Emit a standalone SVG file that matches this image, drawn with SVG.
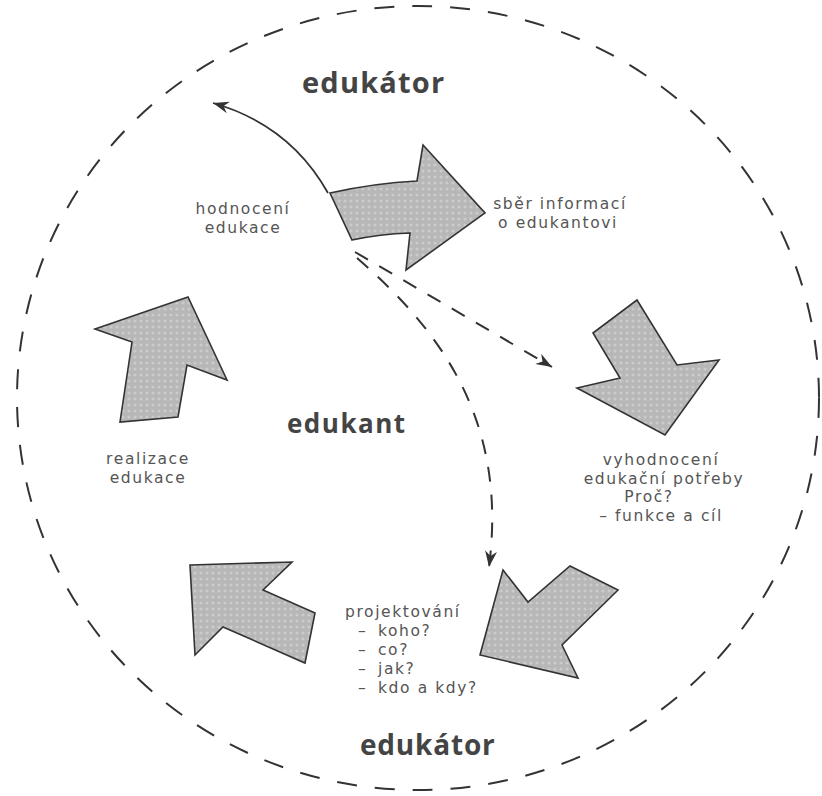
<svg xmlns="http://www.w3.org/2000/svg" width="822" height="796" viewBox="0 0 822 796">
<style>
.bold{font-family:"Open Sans","Liberation Sans",sans-serif;font-weight:bold;fill:#444;}
.lbl{font-family:"DejaVu Sans","Liberation Sans",sans-serif;font-size:15.5px;fill:#555;letter-spacing:1.6px;}
.big{fill:url(#dots);stroke:#333;stroke-width:1.6;stroke-linejoin:miter;}
.dash{fill:none;stroke:#333;stroke-width:2;stroke-dasharray:15 13;}
</style>
<defs>
<pattern id="dots" width="6" height="6" patternUnits="userSpaceOnUse">
<rect width="6" height="6" fill="#b7b7b7"/>
<circle cx="3" cy="3" r="1.6" fill="#cbcbcb"/>
</pattern>
<marker id="ah" viewBox="0 0 16 12" refX="16" refY="6" markerWidth="16" markerHeight="12" markerUnits="userSpaceOnUse" orient="auto">
<path d="M0,0 L16,6 L0,12 L5,6 Z" fill="#333"/>
</marker>
</defs>
<rect width="822" height="796" fill="#fff"/>
<g id="boundary">
<ellipse cx="418" cy="398" rx="401" ry="392" fill="none" stroke="#333" stroke-width="2" stroke-dasharray="20 18"/>
</g>
<g id="connectors">
<path d="M328,193 Q290,125 213,103" fill="none" stroke="#333" stroke-width="1.8" marker-end="url(#ah)"/>
<path class="dash" d="M355,252 L552,367" marker-end="url(#ah)"/>
<path class="dash" d="M357,258 C440,330 508,420 489,567" marker-end="url(#ah)"/>
</g>
<g id="arrow-sber">
<path class="big" d="M330,193 Q375,183 417,181 L423,145 L485,213 L406,270 L410,233 Q380,234 352,240 Z"/>
</g>
<g id="arrow-vyhodnoceni">
<path class="big" d="M593,333 L637,300 L677,365 L719,360 L665,435 L577,388 L620,378 Z"/>
</g>
<g id="arrow-projektovani">
<path class="big" d="M503,570 L528,602 L570,566 L618,590 L562,645 L578,678 L480,655 Z"/>
</g>
<g id="arrow-realizace">
<path class="big" d="M190,565 L292,562 L263,590 L315,613 L305,663 L223,627 L195,655 Z"/>
</g>
<g id="arrow-hodnoceni">
<path class="big" d="M95,329 L188,297 L227,380 L187,365 L178,417 L120,422 L132,342 Z"/>
</g>
<g id="label-edukator-top">
<text class="bold" x="302" y="93" font-size="29" letter-spacing="1.2">edukátor</text>
</g>
<g id="label-edukator-bottom">
<text class="bold" x="360" y="755" font-size="28" letter-spacing="0.8">edukátor</text>
</g>
<g id="label-edukant">
<text class="bold" x="287" y="433" font-size="26" letter-spacing="1.5">edukant</text>
</g>
<g id="label-hodnoceni">
<text class="lbl" x="243" y="214" text-anchor="middle">hodnocení</text>
<text class="lbl" x="243" y="233" text-anchor="middle">edukace</text>
</g>
<g id="label-sber">
<text class="lbl" x="560" y="209" text-anchor="middle">sběr informací</text>
<text class="lbl" x="558" y="228" text-anchor="middle">o edukantovi</text>
</g>
<g id="label-vyhodnoceni">
<text class="lbl" x="661" y="465" text-anchor="middle">vyhodnocení</text>
<text class="lbl" x="664" y="483.5" text-anchor="middle">edukační potřeby</text>
<text class="lbl" x="649" y="502" text-anchor="middle">Proč?</text>
<text class="lbl" x="661" y="520.5" text-anchor="middle">– funkce a cíl</text>
</g>
<g id="label-projektovani">
<text class="lbl" x="345" y="617">projektování</text>
<text class="lbl" x="358" y="636">–</text><text class="lbl" x="378" y="636">koho?</text>
<text class="lbl" x="358" y="655">–</text><text class="lbl" x="378" y="655">co?</text>
<text class="lbl" x="358" y="674">–</text><text class="lbl" x="378" y="674">jak?</text>
<text class="lbl" x="358" y="693">–</text><text class="lbl" x="378" y="693">kdo a kdy?</text>
</g>
<g id="label-realizace">
<text class="lbl" x="148" y="464" text-anchor="middle">realizace</text>
<text class="lbl" x="148" y="482.5" text-anchor="middle">edukace</text>
</g>
</svg>
